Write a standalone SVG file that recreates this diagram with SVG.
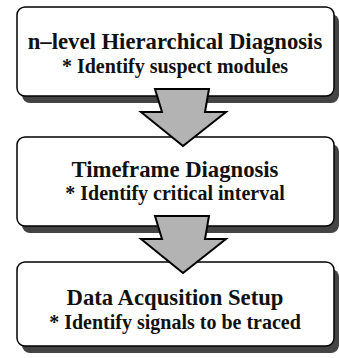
<svg xmlns="http://www.w3.org/2000/svg" width="339" height="358" viewBox="0 0 339 358">
  <style>
    .shadow { fill: #444444; }
    .box { fill: #ffffff; stroke: #000000; stroke-width: 1.5; }
    .arrow { fill: #b3b3b3; stroke: #000000; stroke-width: 2; stroke-linejoin: miter; }
    .title { font-family: "Liberation Serif", "Times New Roman", serif; font-weight: bold; font-size: 22.7px; text-anchor: middle; fill: #111111; }
    .item { font-family: "Liberation Serif", "Times New Roman", serif; font-weight: bold; font-size: 20px; text-anchor: middle; fill: #111111; }
  </style>
  <defs>
    <!-- block outline with drop shadow, shared by the upper steps -->
    <g id="step-shape">
      <rect class="shadow" x="5" y="7" width="317" height="89" rx="8" ry="8"/>
      <rect class="box" x="0" y="0" width="317" height="89" rx="8" ry="8"/>
    </g>
    <!-- downward block arrow between steps -->
    <path id="down-arrow" class="arrow" d="M155,0 L209,0 L205,23 L226,23 L183,57 L141,23 L162,23 Z"/>
  </defs>

  <g id="node-hierarchical">
    <use href="#step-shape" x="17" y="7"/>
    <text class="title" x="175" y="49">n–level Hierarchical Diagnosis</text>
    <text class="item" x="175" y="73">* Identify suspect modules</text>
  </g>

  <g id="node-timeframe">
    <use href="#step-shape" x="17" y="137"/>
    <text class="title" x="175" y="177">Timeframe Diagnosis</text>
    <text class="item" x="175" y="200">* Identify critical interval</text>
  </g>

  <g id="node-acquisition">
    <rect class="shadow" x="22" y="269" width="317" height="84" rx="8" ry="8"/>
    <rect class="box" x="17" y="262" width="317" height="84" rx="8" ry="8"/>
    <text class="title" x="175" y="305">Data Acqusition Setup</text>
    <text class="item" x="175" y="329">* Identify signals to be traced</text>
  </g>

  <g id="connectors">
    <use href="#down-arrow" x="0" y="89"/>
    <use href="#down-arrow" x="0" y="216"/>
  </g>
</svg>
